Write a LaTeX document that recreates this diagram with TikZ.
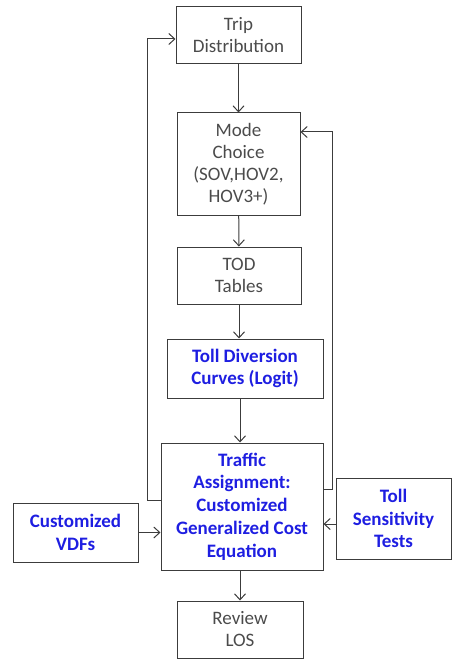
\documentclass[tikz,border=0pt]{standalone}
\usepackage{fontspec}
\setmainfont{Carlito}
\usetikzlibrary{arrows.meta}
\definecolor{ln}{RGB}{60,60,60}
\definecolor{tx}{RGB}{75,75,75}
\definecolor{bl}{RGB}{30,30,225}
\begin{document}
\begin{tikzpicture}[x=1pt,y=-1pt,
  box/.style={draw=ln, line width=1pt, align=center, inner sep=0pt, text=tx, font=\fontsize{19}{22}\selectfont},
  blbox/.style={box, text=bl, font=\fontsize{19}{22.7}\selectfont\bfseries},
  arr/.style={draw=ln, line width=1pt, -{Straight Barb[length=6pt,width=11pt]}}]
\useasboundingbox (0,0) rectangle (454,660);
\node[box, minimum width=125pt, minimum height=57pt] (trip) at (238.5,35.5) {Trip\\Distribution};
\node[box, minimum width=123pt, minimum height=102pt] (mode) at (238.5,164) {Mode\\Choice\\(SOV,HOV2,\\HOV3+)};
\node[box, minimum width=124pt, minimum height=57pt] (tod) at (239,275.5) {TOD\\Tables};
\node[blbox, minimum width=156pt, minimum height=59pt] (div) at (245,368.5) {Toll Diversion\\Curves (Logit)};
\node[blbox, minimum width=162pt, minimum height=127pt] (traffic) at (242,506.5) {Traffic\\Assignment:\\Customized\\Generalized Cost\\Equation};
\node[blbox, minimum width=125pt, minimum height=59pt] (vdf) at (75.5,532.5) {Customized\\VDFs};
\node[blbox, minimum width=115pt, minimum height=81pt] (sens) at (393.5,518.5) {Toll\\Sensitivity\\Tests};
\node[box, minimum width=126pt, minimum height=57pt] (review) at (240,629.5) {Review\\LOS};
\draw[arr] (trip) -- (mode);
\draw[arr] (mode) -- (tod);
\draw[arr] (tod.south) -- (tod.south |- div.north);
\draw[arr] (div.south -| 240,0) -- (traffic.north -| 240,0);
\draw[arr] (review.north |- traffic.south) -- (review.north);
\coordinate (lb) at (147,500);
\coordinate (lt) at (147,39);
\draw[arr] (lb -| traffic.west) -- (lb) -- (lt) -- (lt -| trip.west);
\coordinate (rb) at (332,489);
\coordinate (rt) at (332,132);
\draw[arr] (rb -| traffic.east) -- (rb) -- (rt) -- (rt -| mode.east);
\draw[arr] (vdf.east) -- (vdf.east -| traffic.west);
\coordinate (sa) at (0,524);
\draw[arr] (sa -| sens.west) -- (sa -| traffic.east);
\end{tikzpicture}
\end{document}
